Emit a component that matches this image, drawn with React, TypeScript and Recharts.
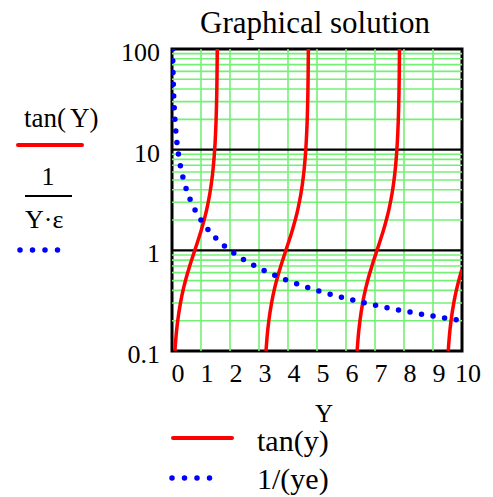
import React from "react";
import {
    LineChart,
    Line,
    XAxis,
    YAxis,
    ReferenceLine,
    ReferenceArea,
} from "recharts";

// red branches of tan(y), one array of x per branch
const branch1X = [0.1, 0.15, 0.2, 0.3, 0.4, 0.5, 0.6, 0.7, 0.8, 0.9, 1.0, 1.1, 1.2, 1.3, 1.35, 1.4, 1.45, 1.5, 1.53, 1.55, 1.56, 1.565];
const branch2X = [3.2416, 3.2916, 3.3416, 3.4416, 3.5416, 3.6416, 3.7416, 3.8416, 3.9416, 4.0416, 4.1416, 4.2416, 4.3416, 4.4416, 4.4916, 4.5416, 4.5916, 4.6416, 4.6716, 4.6916, 4.7016, 4.7066];
const branch3X = [6.3832, 6.4332, 6.4832, 6.5832, 6.6832, 6.7832, 6.8832, 6.9832, 7.0832, 7.1832, 7.2832, 7.3832, 7.4832, 7.5832, 7.6332, 7.6832, 7.7332, 7.7832, 7.8132, 7.8332, 7.8432, 7.8482];
const branchTan = [0.1003, 0.1511, 0.2027, 0.3093, 0.4228, 0.5463, 0.6841, 0.8423, 1.0296, 1.2602, 1.5574, 1.9648, 2.5722, 3.6021, 4.4552, 5.7979, 8.2381, 14.101, 24.498, 48.078, 92.62, 172.5];
const branch4X = [9.5248, 9.5748, 9.6248, 9.7248, 9.8248, 9.9248, 10];
const branch4Tan = [0.1003, 0.1511, 0.2027, 0.3093, 0.4228, 0.5463, 0.6484];

// blue dotted 1/(y*eps)
const recipX = [0.02, 0.03, 0.04, 0.05, 0.07, 0.1, 0.15, 0.2, 0.3, 0.4, 0.5, 0.7, 1, 1.25, 1.5, 1.75, 2, 2.5, 3, 4, 5, 6, 7, 8, 9, 10];
const recipY = [100, 66.67, 50, 40, 28.57, 20, 13.33, 10, 6.667, 5, 4, 2.857, 2, 1.6, 1.333, 1.143, 1, 0.8, 0.6667, 0.5, 0.4, 0.3333, 0.2857, 0.25, 0.2222, 0.2];

const xTicks = [0, 1, 2, 3, 4, 5, 6, 7, 8, 9, 10];
const yTicks = [0.1, 1, 10, 100];
const yTickLabels = ["0.1", "1", "10", "100"];
const gridX = [1, 2, 3, 4, 5, 6, 7, 8, 9];
const gridY = [0.2, 0.3, 0.4, 0.5, 0.6, 0.7, 0.8, 0.9, 2, 3, 4, 5, 6, 7, 8, 9, 20, 30, 40, 50, 60, 70, 80, 90];
const majorY = [1, 10];

const toPoints = (xs: number[], ys: number[]) => xs.map((x, i) => ({ x, y: ys[i] }));

const FONT = "'Liberation Serif', 'Times New Roman', serif";
const GREEN = "#74f074";

const XTick = (props: any) => {
    const { x, y, payload } = props;
    return (
        <text x={x + 6} y={y + 31} textAnchor="middle" fontSize={26} fontFamily={FONT} fill="#000">
            {payload.value}
        </text>
    );
};

const YTick = (props: any) => {
    const { x, y, payload } = props;
    const idx = yTicks.indexOf(payload.value);
    return (
        <text x={x} y={y + 12} textAnchor="end" fontSize={26} fontFamily={FONT} fill="#000">
            {yTickLabels[idx]}
        </text>
    );
};

const App: React.FC = () => {
    return (
        <div style={{ position: "absolute", left: 0, top: 0, width: 493, height: 497, background: "#fff" }}>
            <LineChart
                width={493}
                height={497}
                margin={{ top: 49, right: 31, bottom: 0, left: 0 }}
            >
                <XAxis
                    type="number"
                    dataKey="x"
                    domain={[0, 10]}
                    ticks={xTicks}
                    allowDataOverflow
                    height={146}
                    tickLine={false}
                    axisLine={false}
                    tickSize={0}
                    tickMargin={0}
                    tick={<XTick />}
                    interval={0}
                />
                <YAxis
                    type="number"
                    scale="log"
                    domain={[0.1, 100]}
                    ticks={yTicks}
                    allowDataOverflow
                    width={172}
                    tickLine={false}
                    axisLine={false}
                    tickSize={0}
                    tickMargin={12}
                    tick={<YTick />}
                    interval={0}
                />
                {gridX.map((v) => (
                    <ReferenceLine key={`gx-${v}`} x={v} stroke={GREEN} strokeWidth={1.6} />
                ))}
                {gridY.map((v) => (
                    <ReferenceLine key={`gy-${v}`} y={v} stroke={GREEN} strokeWidth={1.6} />
                ))}
                {majorY.map((v) => (
                    <ReferenceLine key={`my-${v}`} y={v} stroke="#000" strokeWidth={2.2} />
                ))}
                <ReferenceArea x1={0} x2={10} y1={0.1} y2={100} fill="none" fillOpacity={0} stroke="#000" strokeWidth={3} ifOverflow="visible" />
                {[branch1X, branch2X, branch3X].map((xs, i) => (
                    <Line
                        key={`tan-${i}`}
                        data={toPoints(xs, branchTan)}
                        dataKey="y"
                        type="monotone"
                        stroke="#ff0000"
                        strokeWidth={3.5}
                        dot={false}
                        isAnimationActive={false}
                    />
                ))}
                <Line
                    data={toPoints(branch4X, branch4Tan)}
                    dataKey="y"
                    type="monotone"
                    stroke="#ff0000"
                    strokeWidth={3.5}
                    dot={false}
                    isAnimationActive={false}
                />
                <Line
                    data={toPoints(recipX, recipY)}
                    dataKey="y"
                    type="monotone"
                    stroke="#0000ff"
                    strokeWidth={5.5}
                    strokeDasharray="0 11.7"
                    strokeLinecap="round"
                    dot={false}
                    isAnimationActive={false}
                />
            </LineChart>
            <svg
                width={493}
                height={497}
                style={{ position: "absolute", left: 0, top: 0, pointerEvents: "none" }}
                fontFamily={FONT}
            >
                <text x={315} y={33} textAnchor="middle" fontSize={31}>Graphical solution</text>

                {/* left-hand legend */}
                <text x={24} y={127} fontSize={27}>
                    tan(<tspan dx={4}>Y</tspan>)
                </text>
                <line x1={18} y1={145} x2={82} y2={145} stroke="#ff0000" strokeWidth={4} strokeLinecap="round" />
                <text x={48} y={185} textAnchor="middle" fontSize={26}>1</text>
                <line x1={25} y1={196} x2={72} y2={196} stroke="#000" strokeWidth={2} />
                <text x={25} y={228} fontSize={26}>Y·ε</text>
                <line x1={20} y1={250} x2={70} y2={250} stroke="#0000ff" strokeWidth={5.5} strokeDasharray="0 12.5" strokeLinecap="round" />

                {/* axis title and bottom legend */}
                <text x={324} y={422} textAnchor="middle" fontSize={25}>Y</text>
                <line x1={173} y1={438} x2={232} y2={438} stroke="#ff0000" strokeWidth={4} strokeLinecap="round" />
                <text x={257} y={451} fontSize={30}>tan(y)</text>
                <line x1={172} y1={478} x2={222} y2={478} stroke="#0000ff" strokeWidth={5.5} strokeDasharray="0 12.5" strokeLinecap="round" />
                <text x={257} y={489} fontSize={30}>1/(ye)</text>
            </svg>
        </div>
    );
};

export default App;
